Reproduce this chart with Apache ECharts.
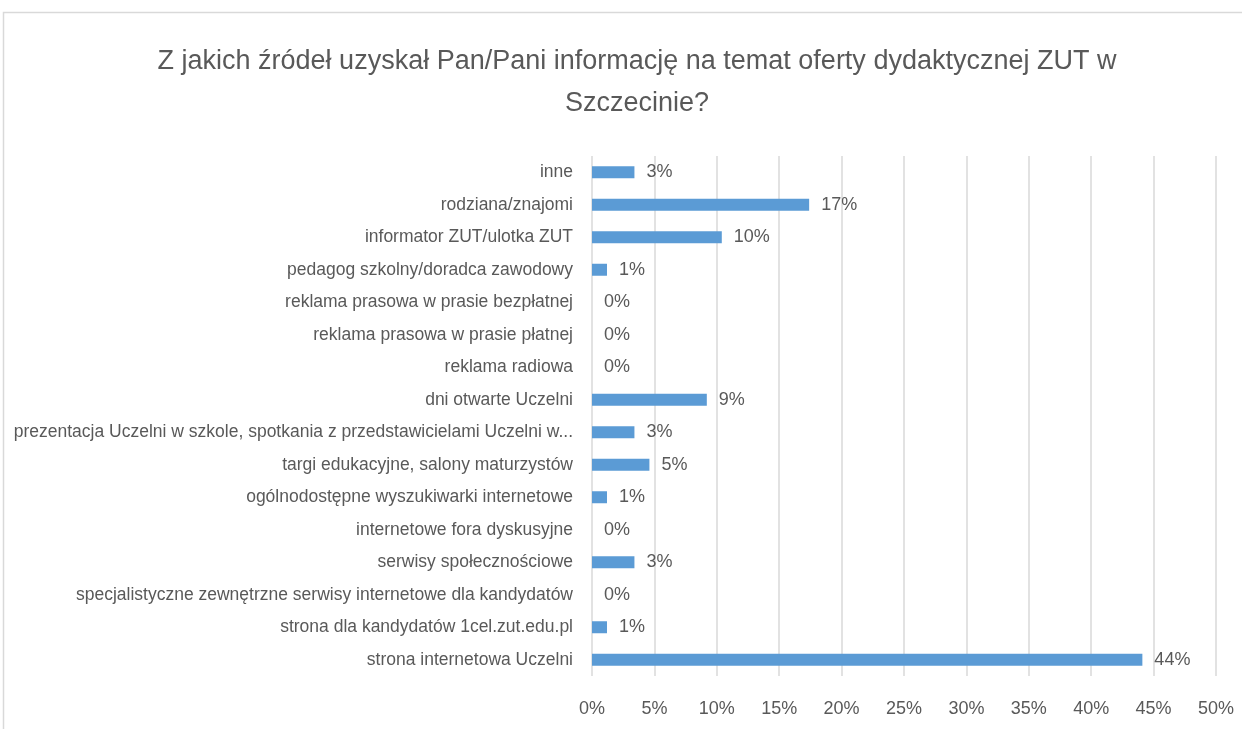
<!DOCTYPE html>
<html>
<head>
<meta charset="utf-8">
<script src="https://cdn.jsdelivr.net/npm/echarts@6/dist/echarts.min.js"></script>
<style>
  html, body { margin: 0; padding: 0; background: #fff; }
  #chart { width: 1242px; height: 729px; }
</style>
</head>
<body>
<div id="chart"></div>
<script>
// kategorie od dołu do góry (tak jak rysuje oś kategorii)
const categories = [
  'strona internetowa Uczelni',
  'strona dla kandydatów 1cel.zut.edu.pl',
  'specjalistyczne zewnętrzne serwisy internetowe dla kandydatów',
  'serwisy społecznościowe',
  'internetowe fora dyskusyjne',
  'ogólnodostępne wyszukiwarki internetowe',
  'targi edukacyjne, salony maturzystów',
  'prezentacja Uczelni w szkole, spotkania z przedstawicielami Uczelni w...',
  'dni otwarte Uczelni',
  'reklama radiowa',
  'reklama prasowa w prasie płatnej',
  'reklama prasowa w prasie bezpłatnej',
  'pedagog szkolny/doradca zawodowy',
  'informator ZUT/ulotka ZUT',
  'rodziana/znajomi',
  'inne'
];
// udział odpowiedzi w %
const shares = [44.1, 1.2, 0, 3.4, 0, 1.2, 4.6, 3.4, 9.2, 0, 0, 0, 1.2, 10.4, 17.4, 3.4];
const xTicks = [0, 50, 5];

const font = '"Liberation Sans", Arial, sans-serif';
const grey = '#595959';

const chart = echarts.init(document.getElementById('chart'));
chart.setOption({
  animation: false,
  title: {
    text: 'Z jakich źródeł uzyskał Pan/Pani informację na temat oferty dydaktycznej ZUT w\nSzczecinie?',
    left: 632,
    top: 36,
    textAlign: 'center',
    textStyle: {
      fontFamily: font,
      fontSize: 27,
      fontWeight: 'normal',
      color: grey,
      lineHeight: 42
    }
  },
  graphic: [{
    type: 'rect',
    shape: { x: 3.5, y: 12.5, width: 1300, height: 800 },
    style: { fill: 'none', stroke: '#d9d9d9', lineWidth: 1.5 },
    silent: true
  }],
  grid: {
    left: 592,
    right: 26,
    top: 156,
    bottom: 53,
    outerBoundsMode: 'none'
  },
  xAxis: {
    type: 'value',
    min: xTicks[0],
    max: xTicks[1],
    interval: xTicks[2],
    axisLine: { show: false },
    axisTick: { show: false },
    axisLabel: {
      formatter: '{value}%',
      color: grey,
      fontFamily: font,
      fontSize: 18,
      margin: 24
    },
    splitLine: { lineStyle: { color: '#d9d9d9', width: 1.5 } }
  },
  yAxis: {
    type: 'category',
    data: categories,
    axisLine: { show: false },
    axisTick: { show: false },
    axisLabel: {
      color: grey,
      fontFamily: font,
      fontSize: 17.5,
      margin: 19
    }
  },
  series: [{
    type: 'bar',
    data: shares,
    barWidth: 12,
    itemStyle: { color: '#5b9bd5' },
    label: {
      show: true,
      position: 'right',
      distance: 12,
      color: grey,
      fontFamily: font,
      fontSize: 18,
      formatter: p => Math.round(p.value) + '%'
    }
  }]
});
</script>
</body>
</html>
